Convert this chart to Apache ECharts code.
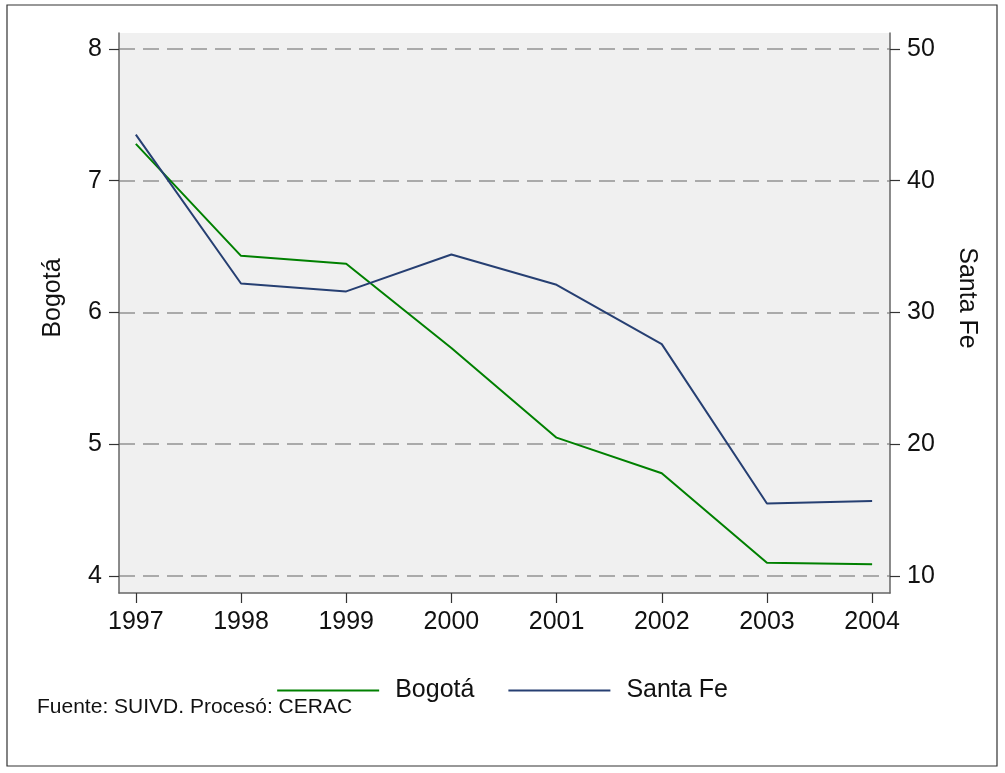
<!DOCTYPE html>
<html>
<head>
<meta charset="utf-8">
<script src="https://cdn.jsdelivr.net/npm/echarts@6/dist/echarts.min.js"></script>
<style>html,body{margin:0;padding:0;background:#fff}#c{width:1005px;height:773px}</style>
</head>
<body>
<div id="c"></div>
<script>
const years = [1997, 1998, 1999, 2000, 2001, 2002, 2003, 2004];
const bogota = [7.28, 6.43, 6.37, 5.73, 5.05, 4.78, 4.10, 4.09];
const santaFe = [43.5, 32.2, 31.6, 34.4, 32.1, 27.6, 15.5, 15.7];
const leftTicks = [4, 5, 6, 7, 8];
const rightTicks = [10, 20, 30, 40, 50];
const seriesNames = ['Bogotá', 'Santa Fe'];
const yTitleLeft = 'Bogotá';
const yTitleRight = 'Santa Fe';
const footer = 'Fuente: SUIVD. Procesó: CERAC';

const FONT = '"Liberation Sans", Arial, sans-serif';
const chart = echarts.init(document.getElementById('c'), null, {renderer: 'canvas'});
const axisLineStyle = {color: '#666666', width: 1.5};
const tickStyle = {color: '#333333', width: 1.2};
const labelStyle = {color: '#111111', fontSize: 25, fontFamily: FONT};

chart.setOption({
  animation: false,
  backgroundColor: '#ffffff',
  grid: {left: 119, right: 115, top: 33, bottom: 180, show: true, backgroundColor: '#f0f0f0', borderWidth: 0},
  xAxis: {
    type: 'value', min: 1996.84, max: 2004.17,
    axisLine: {show: true, onZero: false, lineStyle: axisLineStyle},
    axisTick: {show: true, length: 10, lineStyle: tickStyle, customValues: years},
    axisLabel: Object.assign({margin: 17, customValues: years, formatter: v => String(v)}, labelStyle),
    splitLine: {show: false}
  },
  yAxis: [
    {
      type: 'value', min: 3.871, max: 8.121, position: 'left',
      name: yTitleLeft, nameLocation: 'middle', nameGap: 53, nameRotate: 90,
      nameTextStyle: {fontSize: 25, fontFamily: FONT, color: '#111', padding: [0, 0, 0, 30]},
      axisLine: {show: true, lineStyle: axisLineStyle},
      axisTick: {show: true, length: 10, lineStyle: tickStyle, customValues: leftTicks},
      axisLabel: Object.assign({margin: 17, customValues: leftTicks}, labelStyle),
      splitLine: {show: true, lineStyle: {color: '#aaaaaa', width: 1.8, type: [16, 8]}}
    },
    {
      type: 'value', min: 8.71, max: 51.21, position: 'right',
      name: yTitleRight, nameLocation: 'middle', nameGap: 64, nameRotate: -90,
      nameTextStyle: {fontSize: 25, fontFamily: FONT, color: '#111', padding: [0, 30, 0, 0]},
      axisLine: {show: true, lineStyle: axisLineStyle},
      axisTick: {show: true, length: 10, lineStyle: tickStyle, customValues: rightTicks},
      axisLabel: Object.assign({margin: 17, customValues: rightTicks}, labelStyle),
      splitLine: {show: false}
    }
  ],
  legend: {
    left: 'center', top: 673, itemWidth: 102, itemHeight: 2, itemGap: 34, icon: 'rect',
    textStyle: {fontSize: 25, fontFamily: FONT, color: '#111', padding: [0, 0, 0, 11]},
    data: seriesNames
  },
  series: [
    {name: seriesNames[0], type: 'line', yAxisIndex: 0, data: years.map((y, i) => [y, bogota[i]]),
     showSymbol: false, symbol: 'none', lineStyle: {color: '#008000', width: 2}, itemStyle: {color: '#008000'}},
    {name: seriesNames[1], type: 'line', yAxisIndex: 1, data: years.map((y, i) => [y, santaFe[i]]),
     showSymbol: false, symbol: 'none', lineStyle: {color: '#263f72', width: 2}, itemStyle: {color: '#263f72'}}
  ],
  graphic: [
    {type: 'rect', shape: {x: 7, y: 5, width: 990, height: 761}, style: {fill: 'none', stroke: '#333333', lineWidth: 1.2}, z: 100},
    {type: 'text', left: 37, top: 697, style: {text: footer, fontSize: 21, fontFamily: FONT, fill: '#111'}}
  ]
});
</script>
</body>
</html>
